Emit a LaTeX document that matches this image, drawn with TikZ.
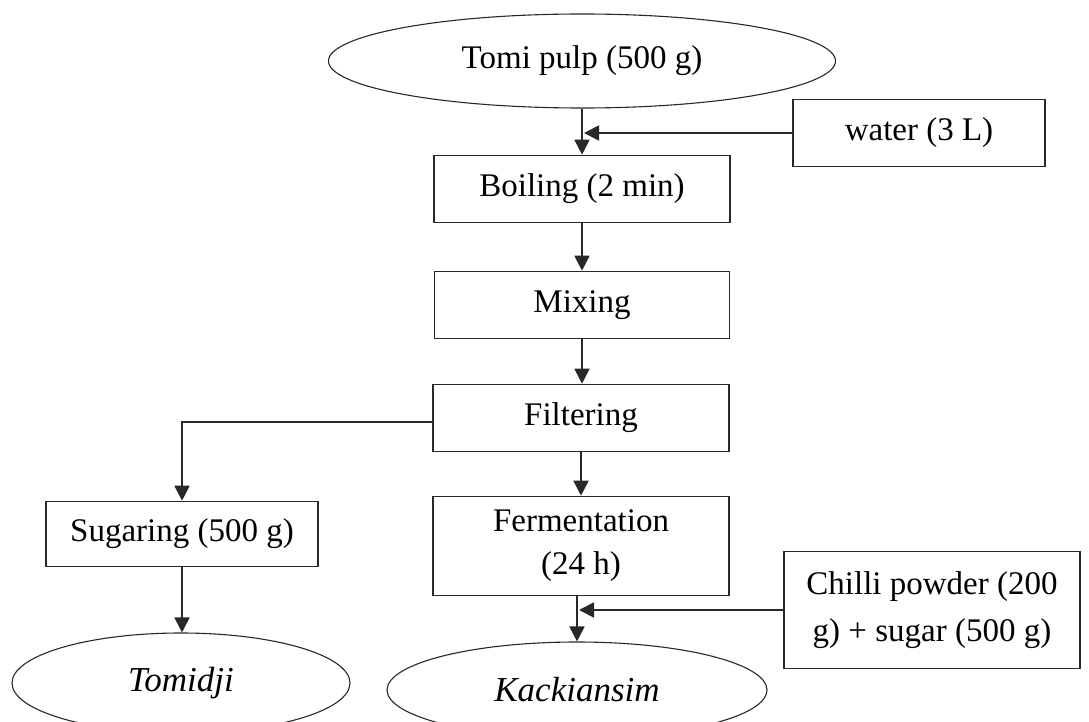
\documentclass[tikz,border=0pt]{standalone}
\usepackage{fontspec}
\setmainfont{Liberation Serif}
\usepackage{tikz}
\usetikzlibrary{arrows.meta, positioning, shapes.geometric}
\definecolor{flowline}{RGB}{40,40,40}

\begin{document}
\begin{tikzpicture}[
        x=1pt, y=-1pt,
        font=\fontsize{33}{44}\selectfont,
        stepbox/.style={rectangle, draw=flowline, line width=1.6pt, inner sep=0pt,
                        align=center},
        product/.style={ellipse, draw=flowline, line width=1.1pt, inner sep=0pt,
                        font=\fontsize{35}{44}\selectfont\itshape},
        flow/.style={-{Triangle[length=15pt, width=15pt]}, line width=1.8pt, flowline}
      ]
      \useasboundingbox (0,0) rectangle (1089,722);

      \node[product, minimum width=507pt, minimum height=94pt,
            font=\fontsize{33}{44}\selectfont] (tomi) at (582,61) {\raisebox{-4pt}{Tomi pulp (500 g)}};
      \node[stepbox, minimum width=252pt, minimum height=67pt] (water) at (919,133) {water (3 L)};
      \node[stepbox, minimum width=296pt, minimum height=67pt] (boil) at (582,189) {Boiling (2 min)};
      \node[stepbox, minimum width=295pt, minimum height=67pt] (mix) at (582,305) {Mixing};
      \node[stepbox, minimum width=296pt, minimum height=67pt] (filt) at (581,418) {Filtering};
      \node[stepbox, minimum width=272pt, minimum height=65pt] (sug) at (182,534) {Sugaring (500 g)};
      \node[stepbox, minimum width=296pt, minimum height=99pt,
            font=\fontsize{33}{43}\selectfont] (ferm) at (581,546) {Fermentation\\(24 h)};
      \node[stepbox, minimum width=296pt, minimum height=117pt,
            font=\fontsize{33}{47}\selectfont] (chilli) at (932,610) {Chilli powder (200\\g) + sugar (500 g)};
      \node[product, minimum width=338pt, minimum height=100pt] (tomidji) at (181,683) {Tomidji};
      \node[product, minimum width=380pt, minimum height=96pt] (kack) at (577,690) {Kackiansim};

      \draw[flow] (boil.north |- tomi.south) -- (boil.north);
      \draw[flow] (water.west) -- ([xshift=2pt]water.west -| boil.north);
      \draw[flow] (boil.south) -- (boil.south |- mix.north);
      \draw[flow] (mix.south) -- (mix.south |- filt.north);
      \draw[flow] ([yshift=-4pt]filt.west) -| (sug.north);
      \draw[flow] (filt.south) -- (ferm.north);
      \draw[flow] (sug.south) -- (sug.south |- tomidji.north);
      \draw[flow] ([xshift=-4pt]ferm.south) -- ([xshift=-4pt]ferm.south |- kack.north);
      \draw[flow] (chilli.west) -- ([xshift=-2pt]chilli.west -| ferm.south);
    \end{tikzpicture}
\end{document}
